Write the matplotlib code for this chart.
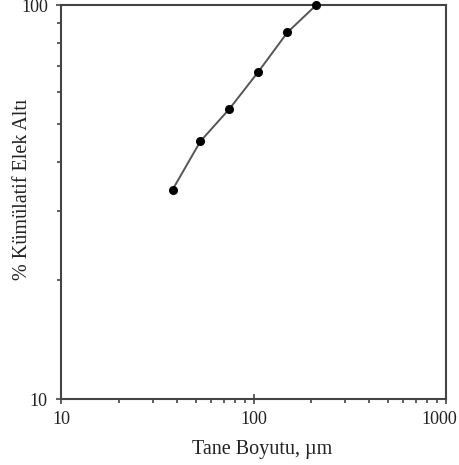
import matplotlib
matplotlib.use("Agg")
import matplotlib.pyplot as plt
import matplotlib.transforms as mtransforms
from matplotlib.ticker import LogLocator, FixedLocator, NullFormatter, FixedFormatter

sizes_um = [38, 53, 75, 106, 150, 212]
cum_passing = [34, 45.1, 54.5, 67.7, 85.2, 100]
x_ticks = [10, 100, 1000]
x_tick_labels = ["10", "100", "1000"]
y_ticks = [10, 100]
y_tick_labels = ["10", "100"]

plt.rcParams['font.family'] = ['Liberation Serif', 'DejaVu Serif']

fig = plt.figure(figsize=(4.59, 4.65), dpi=100)
ax = fig.add_axes([61/459, 66/465, 385/459, 394/465])
ax.set_xscale('log')
ax.set_yscale('log')
ax.set_xlim(10, 1000)
ax.set_ylim(10, 100)

ax.plot(sizes_um, cum_passing, color='#555555', lw=1.4, zorder=2, clip_on=False)
ax.plot(sizes_um, cum_passing, 'o', color='black', ms=5.5, zorder=3, clip_on=False)

ax.xaxis.set_major_locator(FixedLocator(x_ticks))
ax.xaxis.set_major_formatter(FixedFormatter(x_tick_labels))
ax.yaxis.set_major_locator(FixedLocator(y_ticks))
ax.yaxis.set_major_formatter(FixedFormatter(y_tick_labels))
ax.xaxis.set_minor_locator(LogLocator(base=10, subs=range(2, 10)))
ax.yaxis.set_minor_locator(LogLocator(base=10, subs=range(2, 10)))
ax.xaxis.set_minor_formatter(NullFormatter())
ax.yaxis.set_minor_formatter(NullFormatter())

for s in ax.spines.values():
    s.set_color('#444444')
    s.set_linewidth(1.5)

ax.tick_params(which='major', direction='inout', length=7, width=1.2, color='#444444',
               labelsize=13, labelcolor='#222222')
ax.tick_params(which='minor', direction='out', length=3, width=1.2, color='#444444')
ax.tick_params(axis='x', which='major', pad=5)
ax.tick_params(axis='y', which='major', pad=6)

ax.set_xlabel('Tane Boyutu, µm', fontsize=14.5, color='#222222')
ax.set_ylabel('% Kümülatif Elek Altı', fontsize=14.5, color='#222222')
ax.xaxis.set_label_coords(0.522, -0.104)
ax.xaxis.label.set_va('top')
ax.yaxis.set_label_coords(-0.075, 0.533)

fig.canvas.draw()
last = ax.get_xticklabels()[-1]
last.set_horizontalalignment('right')
last.set_transform(last.get_transform() + mtransforms.ScaledTranslation(11/100, 0, fig.dpi_scale_trans))

fig.savefig('out.png', dpi=100)
